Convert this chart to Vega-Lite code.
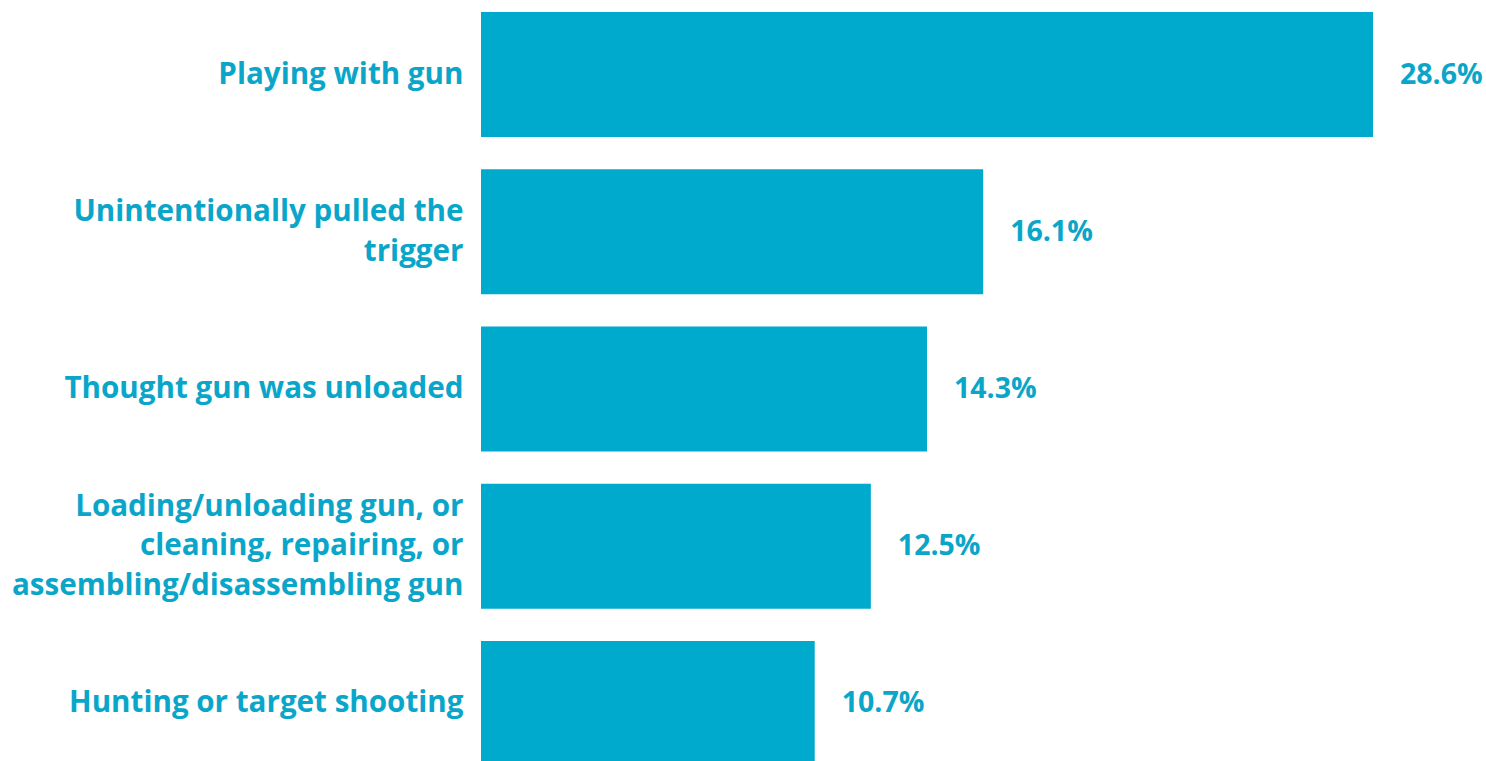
{
  "$schema": "https://vega.github.io/schema/vega-lite/v6.json",
  "autosize": {"type": "none"},
  "padding": {"left": 481, "right": 113, "top": 0, "bottom": 0},
  "width": 892,
  "height": 778,
  "background": "white",
  "config": {"view": {"stroke": null}, "font": "Open Sans"},
  "data": {
    "values": [
      {"reason": "Playing with gun", "pct": 28.6},
      {"reason": "Unintentionally pulled the|trigger", "pct": 16.1},
      {"reason": "Thought gun was unloaded", "pct": 14.3},
      {"reason": "Loading/unloading gun, or|cleaning, repairing, or|assembling/disassembling gun", "pct": 12.5},
      {"reason": "Hunting or target shooting", "pct": 10.7}
    ]
  },
  "encoding": {
    "y": {
      "field": "reason",
      "type": "nominal",
      "sort": null,
      "scale": {"paddingInner": 0.205, "paddingOuter": 0.0763},
      "axis": {
        "title": null,
        "domain": false,
        "ticks": false,
        "labelExpr": "split(datum.label, '|')",
        "labelFont": "Open Sans",
        "labelFontSize": 29.6,
        "labelFontWeight": "bold",
        "labelColor": "#0AA6CA",
        "labelPadding": 18,
        "labelLimit": 600,
        "labelLineHeight": 39.5,
        "labelOffset": {
          "condition": [
            {"test": "length(split(datum.value, '|')) == 3", "value": -39.5},
            {"test": "length(split(datum.value, '|')) == 2", "value": -19.75}
          ],
          "value": 0
        }
      }
    },
    "x": {
      "field": "pct",
      "type": "quantitative",
      "scale": {"domain": [0, 28.6], "nice": false, "zero": true},
      "axis": null
    }
  },
  "layer": [
    {"mark": {"type": "bar", "color": "#00AACD"}},
    {
      "transform": [
        {"calculate": "format(datum.pct, '.1f') + '%'", "as": "label"}
      ],
      "mark": {
        "type": "text",
        "align": "left",
        "baseline": "middle",
        "dx": 27,
        "font": "Open Sans",
        "fontSize": 28.5,
        "fontWeight": "bold",
        "color": "#0AA6CA"
      },
      "encoding": {
        "text": {"field": "label", "type": "nominal"}
      }
    }
  ]
}
